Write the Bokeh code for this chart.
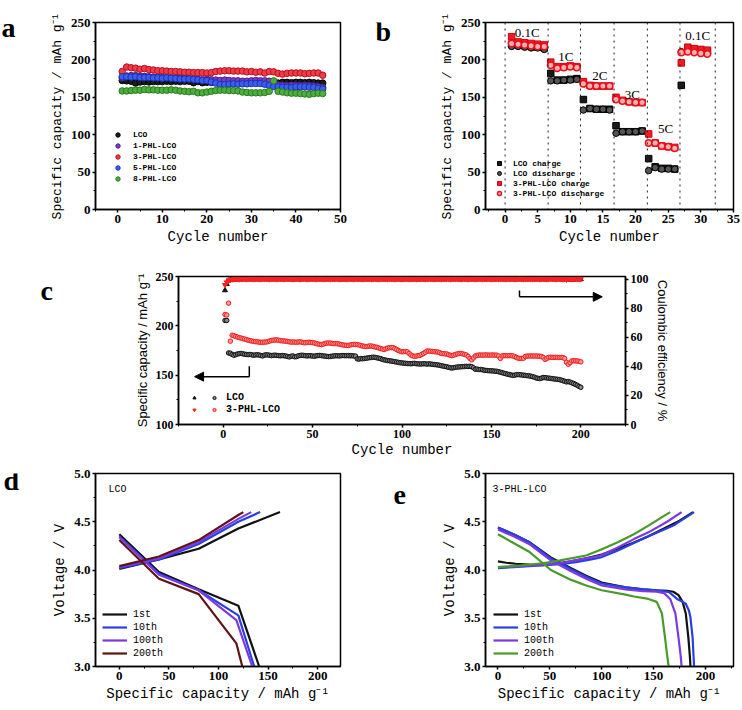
from bokeh.plotting import figure
from bokeh.layouts import column, row
from bokeh.models import (Range1d, LinearAxis, Label, Legend, LegendItem, Span, Arrow,
                          NormalHead, SingleIntervalTicker, NumeralTickFormatter)
from bokeh.embed import file_html
from bokeh.resources import INLINE

SERIF = "Liberation Serif"
MONO = "Liberation Mono"
SANS = "Liberation Sans"

# ---------------- panel a data ----------------
a_cycles = list(range(1, 47))
a_lco = [172.5, 172.0, 171.5, 169.0, 170.5, 171.0, 170.5, 171.0, 171.0, 171.0,
         171.5, 171.0, 171.5, 171.0, 171.5, 171.5, 169.5, 171.0, 169.5, 170.0,
         170.0, 170.5, 169.5, 170.0, 170.0, 170.0, 169.5, 170.0, 170.0, 169.5,
         170.0, 170.5, 170.5, 170.0, 168.0, 169.0, 170.0, 170.0, 169.5, 170.0,
         170.0, 169.5, 170.0, 169.5, 169.0, 169.0]
a_1phl = [176.0, 178.5, 179.0, 179.0, 178.0, 178.0, 177.5, 177.0, 177.0, 176.5,
          176.5, 176.0, 176.5, 175.5, 175.5, 175.0, 174.5, 174.0, 173.5, 174.0,
          173.5, 173.0, 172.5, 173.0, 172.5, 172.0, 172.0, 171.5, 171.5, 172.0,
          172.5, 172.0, 172.0, 171.5, 166.0, 166.5, 166.0, 165.5, 166.0, 166.0,
          165.5, 166.0, 165.5, 165.0, 164.0, 163.0]
a_3phl = [184.5, 190.5, 189.5, 189.0, 187.5, 188.5, 187.0, 186.5, 185.5, 185.5,
          185.0, 184.5, 184.5, 184.0, 183.5, 183.5, 183.0, 183.0, 183.0, 182.5,
          183.0, 184.5, 185.0, 185.5, 185.5, 185.0, 185.0, 185.0, 184.0, 184.5,
          183.5, 184.0, 182.5, 184.5, 184.0, 182.0, 181.0, 182.0, 182.5, 182.5,
          182.5, 181.5, 182.0, 182.5, 182.5, 179.5]
a_5phl = [177.5, 177.5, 177.0, 177.5, 176.5, 176.5, 176.5, 176.0, 176.0, 175.5,
          176.0, 175.5, 175.0, 174.5, 174.5, 174.5, 174.0, 173.5, 172.5, 172.5,
          170.5, 169.0, 167.0, 167.0, 167.5, 168.0, 167.5, 168.0, 168.0, 168.5,
          168.5, 168.5, 167.5, 166.0, 164.5, 164.0, 163.5, 163.5, 163.0, 164.0,
          164.0, 164.0, 163.5, 163.0, 162.0, 161.0]
a_8phl = [158.5, 158.5, 159.0, 159.5, 159.5, 160.5, 160.0, 160.0, 159.5, 159.5,
          159.5, 160.0, 159.5, 158.5, 158.0, 157.5, 158.0, 156.0, 156.0, 157.0,
          158.0, 159.0, 159.5, 159.5, 159.0, 159.0, 158.5, 157.0, 156.5, 156.0,
          156.0, 156.0, 156.5, 158.0, 172.0, 158.0, 157.0, 156.0, 155.5, 155.5,
          155.0, 154.5, 154.0, 155.0, 155.5, 155.0]
a_names = ["LCO", "1-PHL-LCO", "3-PHL-LCO", "5-PHL-LCO", "8-PHL-LCO"]
a_fill = ["#1c1c1c", "#7a3cc8", "#f03c46", "#3a5ef0", "#4caf3c"]
a_line = ["#000000", "#4b1f8a", "#b81020", "#1a30b0", "#2a7a20"]

# ---------------- panel b data ----------------
b_cycles = list(range(1, 32))
b_lco_charge = [221, 220, 219, 218, 217, 216, 182, 173, 173, 174, 175, 147, 135, 134, 134, 134,
                112, 104, 104, 104, 105, 68, 57, 55, 55, 54, 166, 215, 214, 213, 212]
b_lco_dis = [218, 218, 217, 216, 216, 214, 172, 172, 173, 173, 174, 133, 135, 134, 134, 133,
             102, 104, 104, 104, 105, 52, 56, 54, 54, 54, 211, 212, 211, 210, 209]
b_phl_charge = [231, 224, 223, 222, 221, 220, 197, 191, 191, 192, 191, 171, 166, 165, 165, 165,
                150, 146, 144, 143, 143, 101, 89, 85, 84, 83, 196, 217, 215, 214, 213]
b_phl_dis = [222, 221, 220, 219, 218, 218, 193, 189, 190, 191, 190, 168, 165, 165, 165, 165,
             147, 145, 144, 143, 143, 89, 89, 85, 84, 82, 210, 211, 210, 209, 208]
b_dividers = [0, 6.6, 11.55, 16.7, 21.8, 26.8, 32.2]
b_rate_text = ["0.1C", "1C", "2C", "3C", "5C", "0.1C"]
b_rate_x = [3.4, 9.3, 14.5, 19.5, 24.6, 29.5]
b_rate_y = [237, 204, 179, 154, 108, 232]

# ---------------- panel c data ----------------
c_cycles = list(range(1, 201))
c_cap_lco = [205.5, 205.5, 172.5, 172.3, 171.0, 170.2, 170.8, 171.5, 171.8, 172.0,
             171.6, 171.2, 171.0, 170.8, 171.0, 170.6, 170.2, 170.5, 170.7, 170.4,
             170.0, 169.5, 170.3, 170.6, 170.5, 170.2, 169.8, 170.1, 170.3, 170.0,
             169.8, 169.6, 169.9, 169.7, 169.4, 169.0, 168.5, 169.2, 169.5, 168.6,
             168.8, 169.6, 170.0, 170.2, 170.0, 169.7, 169.5, 169.8, 169.6, 169.4,
             169.2, 169.6, 169.9, 170.0, 169.8, 169.5, 169.3, 169.0, 168.8, 169.0,
             169.3, 169.5, 169.7, 169.6, 169.5, 169.8, 169.9, 169.7, 169.8, 169.8,
             169.6, 169.7, 169.5, 169.3, 166.5, 166.3, 166.8, 166.6, 167.0, 167.2,
             167.5, 167.8, 168.0, 168.2, 168.0, 167.6, 167.2, 166.8, 166.0, 165.5,
             165.2, 164.8, 164.6, 164.3, 164.0, 163.6, 163.3, 163.0, 162.6, 162.4,
             162.2, 162.0, 161.8, 161.7, 161.6, 161.8, 162.0, 161.6, 161.5, 161.3,
             161.4, 161.6, 161.5, 161.2, 161.5, 161.3, 161.0, 160.8, 160.6, 160.4,
             160.0, 159.6, 159.2, 158.8, 158.5, 158.0, 157.5, 157.3, 157.6, 158.0,
             158.2, 158.4, 158.5, 158.6, 158.8, 159.0, 158.8, 159.0, 158.6, 157.5,
             156.0, 156.2, 155.7, 155.8, 155.5, 155.0, 154.8, 154.6, 154.5, 154.4,
             154.3, 154.0, 154.0, 153.5, 153.0, 152.5, 152.0, 151.5, 151.0, 150.6,
             150.2, 149.8, 150.0, 150.5, 150.6, 150.4, 150.2, 150.0, 149.8, 149.5,
             149.3, 149.0, 148.5, 148.0, 147.2, 146.8, 146.5, 147.0, 147.6, 147.5,
             147.2, 147.0, 146.8, 146.5, 146.2, 146.0, 145.8, 145.5, 145.0, 144.4,
             143.8, 143.2, 143.5, 143.0, 142.2, 141.6, 140.6, 139.8, 138.6, 137.7]
c_cap_phl = [211.5, 211.0, 223.0, 184.5, 190.5, 190.0, 189.2, 188.6, 188.0, 187.6,
             187.0, 186.6, 186.0, 185.5, 185.0, 184.6, 184.2, 184.0, 183.8, 183.5,
             183.4, 183.3, 183.5, 183.6, 184.0, 184.6, 185.2, 185.5, 185.6, 185.8,
             185.4, 185.0, 184.8, 184.6, 184.5, 184.2, 183.8, 183.5, 183.6, 183.5,
             183.3, 183.6, 183.8, 183.4, 183.0, 182.8, 183.2, 183.4, 183.1, 183.0,
             182.6, 182.0, 181.6, 181.2, 181.0, 181.5, 182.2, 182.5, 182.6, 182.5,
             182.2, 182.0, 182.0, 181.8, 181.5, 181.0, 180.6, 180.4, 180.2, 180.0,
             180.6, 181.0, 181.2, 181.0, 181.0, 180.6, 180.0, 179.5, 179.2, 179.0,
             179.3, 179.6, 179.5, 179.0, 178.6, 178.2, 177.6, 177.0, 176.5, 176.0,
             176.8, 177.5, 177.8, 178.0, 178.0, 177.0, 176.0, 175.0, 174.2, 173.7,
             173.8, 174.0, 173.6, 172.0, 170.4, 169.6, 169.0, 169.4, 169.8, 170.0,
             171.0, 172.0, 173.2, 174.4, 174.4, 174.2, 174.0, 173.8, 173.6, 173.5,
             172.8, 172.0, 171.8, 171.6, 171.5, 170.8, 170.2, 169.8, 170.4, 171.0,
             171.6, 172.0, 172.0, 171.6, 171.0, 170.5, 169.0, 167.0, 165.5, 167.5,
             169.5, 170.0, 170.4, 170.4, 170.3, 170.4, 170.5, 170.4, 170.3, 170.4,
             170.4, 170.3, 170.3, 169.5, 167.0, 169.5, 169.8, 169.8, 169.7, 169.8,
             169.8, 169.5, 168.8, 168.0, 167.2, 167.0, 167.0, 167.2, 169.0, 169.3,
             169.4, 169.5, 169.4, 169.4, 169.4, 169.3, 169.2, 169.0, 168.0, 166.0,
             167.0, 168.0, 168.2, 168.0, 168.0, 168.1, 168.0, 168.0, 168.0, 167.8,
             167.0, 163.0, 161.0, 162.6, 164.5, 164.6, 164.5, 164.4, 164.0, 163.5]
c_eff_lco = [92.3, 96.6, 99.0, 99.4, 99.6, 99.7, 99.8, 99.7, 99.9, 99.8,
             99.9, 100.0, 99.8, 99.9, 100.1, 99.9, 99.8, 100.0, 99.9, 99.8,
             100.0, 99.9, 100.1, 99.8, 99.9, 100.0, 99.9, 99.8, 100.0, 100.1,
             99.9, 99.8, 100.0, 99.9, 100.2, 99.9, 99.8, 100.0, 99.9, 99.7,
             99.9, 100.0, 99.8, 99.9, 100.1, 99.9, 99.8, 100.0, 99.9, 100.0,
             99.8, 99.9, 100.1, 99.9, 99.8, 100.0, 99.9, 99.8, 100.0, 99.9,
             100.1, 99.8, 99.9, 100.0, 99.9, 99.7, 99.9, 100.0, 99.8, 99.9,
             100.0, 99.9, 99.8, 100.2, 99.9, 99.8, 100.0, 99.9, 99.8, 100.0,
             99.9, 100.1, 99.8, 99.9, 100.0, 99.9, 99.8, 100.0, 99.9, 99.8,
             100.0, 99.9, 100.1, 99.8, 99.9, 100.0, 99.9, 99.8, 100.0, 99.9,
             99.8, 100.0, 99.9, 100.1, 99.9, 99.8, 100.0, 99.9, 99.7, 99.9,
             100.0, 99.9, 99.8, 100.0, 100.1, 99.9, 99.8, 99.9, 100.0, 99.9,
             99.8, 100.0, 99.9, 99.8, 100.1, 99.9, 100.0, 99.8, 99.9, 100.0,
             99.9, 99.8, 100.0, 99.9, 100.1, 99.8, 99.9, 100.0, 99.9, 99.8,
             100.0, 99.9, 99.8, 100.1, 99.9, 100.0, 99.8, 99.9, 100.0, 99.9,
             99.8, 100.0, 99.9, 100.1, 99.9, 99.8, 100.0, 99.9, 99.8, 100.0,
             99.9, 100.1, 99.8, 99.9, 100.0, 99.9, 99.8, 100.0, 99.9, 99.8,
             100.0, 99.9, 100.1, 99.8, 99.9, 100.0, 99.9, 99.8, 100.0, 99.9,
             99.8, 100.0, 99.9, 100.1, 99.9, 99.8, 100.0, 99.9, 99.7, 99.9,
             100.0, 99.9, 99.8, 100.0, 99.6, 99.9, 99.8, 99.9, 100.0, 99.9]
c_eff_phl = [96.0, 97.8, 99.2, 99.6, 99.8, 99.9, 100.0, 100.1, 99.9, 100.0,
             100.1, 100.0, 99.9, 100.1, 100.0, 100.2, 99.9, 100.0, 100.1, 100.0,
             99.9, 100.1, 100.0, 100.2, 100.0, 99.9, 100.1, 100.0, 100.1, 99.9,
             100.0, 100.2, 100.0, 99.9, 100.1, 100.0, 100.1, 100.0, 99.9, 100.1,
             100.0, 100.1, 99.9, 100.0, 100.2, 100.0, 99.9, 100.1, 100.0, 100.1,
             100.0, 99.9, 100.1, 100.0, 100.2, 99.9, 100.0, 100.1, 100.0, 99.9,
             100.1, 100.0, 100.2, 100.0, 99.9, 100.1, 100.0, 100.1, 99.9, 100.0,
             100.1, 100.0, 99.9, 100.1, 100.0, 100.2, 100.0, 99.9, 100.1, 100.0,
             100.0, 100.1, 99.9, 100.0, 100.2, 100.0, 99.9, 100.1, 100.0, 100.1,
             100.0, 99.9, 100.1, 100.0, 100.1, 99.9, 100.0, 100.2, 100.0, 99.9,
             100.1, 100.0, 100.1, 99.9, 100.0, 100.1, 100.0, 99.9, 100.2, 100.0,
             100.0, 100.1, 99.9, 100.0, 100.1, 100.0, 100.2, 99.9, 100.0, 100.1,
             100.0, 99.9, 100.1, 100.0, 100.1, 100.0, 99.9, 100.1, 100.0, 100.2,
             100.0, 100.1, 99.9, 100.0, 100.1, 100.0, 99.9, 100.1, 100.0, 100.1,
             99.9, 100.0, 100.2, 100.0, 99.9, 100.1, 100.0, 100.1, 100.0, 99.9,
             100.1, 100.0, 100.1, 99.9, 100.0, 100.2, 100.0, 99.9, 100.1, 100.0,
             100.0, 100.1, 99.9, 100.0, 100.1, 100.3, 100.0, 99.9, 100.1, 100.0,
             100.1, 100.0, 99.9, 100.1, 100.0, 100.1, 99.9, 100.0, 100.2, 100.0,
             99.9, 100.1, 100.0, 100.1, 100.0, 99.9, 100.1, 100.0, 100.1, 99.9,
             100.0, 99.7, 100.1, 100.0, 99.9, 100.1, 100.0, 100.1, 100.0, 100.0]
# arrows (cycle, capacity units of the left axis)
c_arrow_left = dict(x=[14.6, 14.6, -16.0], y=[159.0, 148.5, 148.5])
c_arrow_right = dict(x=[165.7, 165.7, 212.0], y=[235.9, 229.4, 229.4])

# ---------------- panel d data (LCO) ----------------
d_labels = ["1st", "10th", "100th", "200th"]
d_colors = ["#111111", "#2a3ee6", "#7a3ae0", "#5e1414"]
d_ch_cap = [[0, 20, 40, 80, 120, 162], [0, 40, 80, 120, 142], [0, 40, 80, 120, 133], [0, 40, 80, 120, 125]]
d_ch_v = [[4.01, 4.06, 4.11, 4.22, 4.43, 4.60], [4.02, 4.11, 4.27, 4.50, 4.60],
          [4.03, 4.12, 4.29, 4.53, 4.60], [4.04, 4.14, 4.31, 4.57, 4.60]]
d_dis_cap = [[0, 40, 80, 120, 141], [0, 40, 80, 120, 136], [0, 40, 80, 118, 134], [0, 40, 80, 118, 124]]
d_dis_v = [[4.37, 3.98, 3.80, 3.63, 3.00], [4.35, 3.96, 3.79, 3.53, 3.00],
           [4.34, 3.95, 3.79, 3.48, 3.00], [4.31, 3.91, 3.75, 3.24, 3.00]]

# ---------------- panel e data (3-PHL-LCO) ----------------
e_labels = ["1st", "10th", "100th", "200th"]
e_colors = ["#111111", "#2a3ee6", "#7a3ae0", "#4a9a2a"]
e_ch_cap = [[0, 8, 17, 30, 43, 55, 70, 85, 100, 115, 130, 145, 160, 175, 188],
            [0, 15, 30, 45, 60, 75, 90, 99, 115, 131, 145, 158, 169, 182, 189],
            [0, 15, 30, 45, 60, 75, 90, 99, 115, 131, 145, 163, 177],
            [0, 20, 43, 60, 85, 99, 116, 131, 145, 157, 166]]
e_ch_v = [[4.09, 4.075, 4.065, 4.055, 4.05, 4.065, 4.09, 4.12, 4.16, 4.22, 4.28, 4.35, 4.43, 4.51, 4.60],
          [4.02, 4.03, 4.04, 4.05, 4.06, 4.08, 4.11, 4.13, 4.20, 4.28, 4.35, 4.41, 4.46, 4.55, 4.60],
          [4.03, 4.035, 4.045, 4.055, 4.07, 4.10, 4.13, 4.15, 4.23, 4.32, 4.39, 4.50, 4.60],
          [4.03, 4.045, 4.07, 4.10, 4.15, 4.21, 4.29, 4.37, 4.46, 4.54, 4.60]]
e_dis_cap = [[0, 15, 30, 51, 70, 85, 100, 123, 140, 153, 163, 169, 174, 178, 181, 183.5, 185, 185.5],
             [0, 15, 30, 51, 70, 85, 100, 123, 140, 153, 165, 172.6, 178, 181, 184, 185.5, 187.6, 189],
             [0, 15, 30, 51, 70, 85, 100, 123, 140, 153, 160, 166, 171, 174, 176, 177],
             [0, 15, 30, 51, 70, 85, 100, 123, 131, 145, 153, 158, 161, 163, 164.5]]
e_dis_v = [[4.44, 4.37, 4.29, 4.13, 4.02, 3.94, 3.87, 3.82, 3.80, 3.79, 3.785, 3.775, 3.74, 3.67, 3.55, 3.30, 3.10, 3.00],
           [4.44, 4.37, 4.29, 4.12, 4.01, 3.93, 3.86, 3.82, 3.80, 3.79, 3.77, 3.70, 3.67, 3.65, 3.58, 3.51, 3.30, 3.00],
           [4.42, 4.35, 4.27, 4.10, 3.99, 3.91, 3.84, 3.80, 3.78, 3.775, 3.76, 3.70, 3.55, 3.30, 3.12, 3.00],
           [4.37, 4.28, 4.19, 4.00, 3.90, 3.84, 3.79, 3.745, 3.725, 3.70, 3.67, 3.55, 3.30, 3.12, 3.00]]

CAP_TITLE = "Specific capacity / mAh g\u207b\u00b9"


def make_fig(w, h, xr, yr, top, bottom, left, right):
    p = figure(width=w, height=h, x_range=Range1d(*xr), y_range=Range1d(*yr),
               output_backend="svg", toolbar_location=None,
               min_border_top=top, min_border_bottom=bottom,
               min_border_left=left, min_border_right=right,
               background_fill_color="white", border_fill_color="white")
    p.grid.visible = False
    p.outline_line_color = "black"
    p.outline_line_width = 1.5
    return p


def letter_fig(w, h, letter, x, y):
    """Narrow axis-less strip that only carries the panel letter."""
    s = figure(width=w, height=h, x_range=Range1d(0, w), y_range=Range1d(0, h),
               output_backend="svg", toolbar_location=None,
               x_axis_type=None, y_axis_type=None, min_border=0,
               background_fill_color="white", border_fill_color="white")
    s.grid.visible = False
    s.outline_line_color = None
    s.add_layout(Label(x=x, y=y, text=letter,
                       text_font=SERIF, text_font_style="bold", text_font_size="28px",
                       text_color="black", text_align="left", text_baseline="bottom"))
    return s


def style_axis(ax, tick_size="13px", title_font=MONO, title_size="14px", title_style="normal"):
    ax.axis_line_width = 1.5
    ax.axis_line_color = "black"
    ax.major_tick_line_width = 1.5
    ax.major_tick_in = 0
    ax.major_tick_out = 3
    ax.minor_tick_in = 0
    ax.minor_tick_out = 2
    ax.minor_tick_line_width = 1
    ax.major_label_text_font = SERIF
    ax.major_label_text_font_style = "bold"
    ax.major_label_text_font_size = tick_size
    ax.major_label_text_color = "black"
    ax.major_label_standoff = 2
    ax.axis_label_text_font = title_font
    ax.axis_label_text_font_size = title_size
    ax.axis_label_text_font_style = title_style
    ax.axis_label_text_color = "black"
    ax.axis_label_standoff = 3


def small_legend(items, loc, font, size, style, glyph_w, glyph_h, standoff, spacing,
                 orientation="vertical"):
    return Legend(items=items, location=loc, orientation=orientation,
                  background_fill_alpha=0, border_line_alpha=0, padding=0, margin=0,
                  spacing=spacing, glyph_width=glyph_w, glyph_height=glyph_h,
                  label_height=glyph_h, label_width=0, label_standoff=standoff,
                  label_text_font=font, label_text_font_size=size,
                  label_text_font_style=style, label_text_color="black")


# ================= panel a =================
pa = make_fig(351, 255, (-5, 50), (0, 250), 16, 46, 75, 31)
pa.xaxis.ticker = SingleIntervalTicker(interval=10, num_minor_ticks=2)
pa.yaxis.ticker = SingleIntervalTicker(interval=50, num_minor_ticks=2)
pa.xaxis.axis_label = "Cycle number"
pa.yaxis.axis_label = CAP_TITLE
for ax in pa.xaxis:
    style_axis(ax)
for ax in pa.yaxis:
    style_axis(ax, title_size="13px")
a_series = [a_lco, a_1phl, a_3phl, a_5phl, a_8phl]
a_r = {}
for name, ys, fc, lc in zip(a_names, a_series, a_fill, a_line):
    a_r[name] = pa.scatter(a_cycles, ys, marker="circle", size=6.5, fill_color=fc,
                           line_color=lc, line_width=1)
pa.add_layout(small_legend([LegendItem(label=n, renderers=[a_r[n]]) for n in a_names],
                           (17, 25), MONO, "8px", "bold", 11, 11, 10, 0))

# ================= panel b =================
pb = make_fig(346, 255, (-3, 35), (0, 250), 22, 39, 89, 9)
pb.xaxis.ticker = SingleIntervalTicker(interval=5, num_minor_ticks=2)
pb.yaxis.ticker = SingleIntervalTicker(interval=50, num_minor_ticks=2)
pb.xaxis.axis_label = "Cycle number"
pb.yaxis.axis_label = CAP_TITLE
for ax in pb.xaxis:
    style_axis(ax)
for ax in pb.yaxis:
    style_axis(ax, title_size="13px")
for v in b_dividers:
    pb.add_layout(Span(location=v, dimension="height", line_dash="dotted",
                       line_color="#222222", line_width=1))
rb1 = pb.scatter(b_cycles, b_lco_charge, marker="square", size=6.5, fill_color="#1a1a1a",
                 line_color="#000000")
rb2 = pb.scatter(b_cycles, b_lco_dis, marker="circle", size=6.5, fill_color="#555555",
                 line_color="#000000")
rb3 = pb.scatter(b_cycles, b_phl_charge, marker="square", size=6.5, fill_color="#f01c24",
                 line_color="#d00010")
rb4 = pb.scatter(b_cycles, b_phl_dis, marker="circle", size=6.5, fill_color="#ffb0b0",
                 line_color="#e8101c", line_width=1.5)
pb.add_layout(small_legend([LegendItem(label="LCO charge", renderers=[rb1]),
                            LegendItem(label="LCO discharge", renderers=[rb2]),
                            LegendItem(label="3-PHL-LCO charge", renderers=[rb3]),
                            LegendItem(label="3-PHL-LCO discharge", renderers=[rb4])],
                           (9, 11), MONO, "8px", "bold", 10, 10, 9, 0))
for t, x, y in zip(b_rate_text, b_rate_x, b_rate_y):
    pb.add_layout(Label(x=x, y=y, text=t, text_font=SERIF, text_font_size="13px",
                        text_color="black", text_align="center", text_baseline="middle"))

# ================= panel c =================
pc = make_fig(682, 205, (-25, 225), (100, 250), 21, 32, 118, 117)
pc.extra_y_ranges = {"ce": Range1d(0, 101.8)}
pc.xaxis.ticker = SingleIntervalTicker(interval=50, num_minor_ticks=2)
pc.yaxis.ticker = SingleIntervalTicker(interval=50, num_minor_ticks=2)
pc.xaxis.axis_label = "Cycle number"
pc.yaxis.axis_label = CAP_TITLE
right_ax = LinearAxis(y_range_name="ce", axis_label="Coulombic efficiency / %",
                      ticker=SingleIntervalTicker(interval=20, num_minor_ticks=2))
pc.add_layout(right_ax, "right")
for ax in pc.xaxis:
    style_axis(ax, tick_size="12px")
    ax.axis_label_standoff = 1
for ax in pc.yaxis:
    style_axis(ax, tick_size="12px", title_font=SANS, title_size="13px")
rc_cap_lco = pc.scatter(c_cycles, c_cap_lco, marker="circle", size=4.5, fill_color="#888888",
                        line_color="#111111", line_width=1)
rc_cap_phl = pc.scatter(c_cycles, c_cap_phl, marker="circle", size=4.5, fill_color="#ff9a9a",
                        line_color="#ee2020", line_width=1)
rc_eff_lco = pc.scatter(c_cycles, c_eff_lco, y_range_name="ce", marker="triangle", size=5,
                        fill_color="#111111", line_color="#111111")
rc_eff_phl = pc.scatter(c_cycles, c_eff_phl, y_range_name="ce", marker="inverted_triangle",
                        size=5, fill_color="#ff2020", line_color="#ff2020")
for arr in (c_arrow_left, c_arrow_right):
    pc.add_layout(Arrow(end=None, x_start=arr["x"][0], y_start=arr["y"][0],
                        x_end=arr["x"][1], y_end=arr["y"][1], line_width=1.5, line_color="black"))
    pc.add_layout(Arrow(end=NormalHead(size=9, fill_color="black", line_color="black"),
                        x_start=arr["x"][1], y_start=arr["y"][1],
                        x_end=arr["x"][2], y_end=arr["y"][2], line_width=1.5, line_color="black"))
pc.add_layout(small_legend([LegendItem(label=" ", renderers=[rc_eff_lco]),
                            LegendItem(label="LCO", renderers=[rc_cap_lco])],
                           (12, 21), MONO, "10px", "bold", 8, 11, 8, 4, orientation="horizontal"))
pc.add_layout(small_legend([LegendItem(label=" ", renderers=[rc_eff_phl]),
                            LegendItem(label="3-PHL-LCO", renderers=[rc_cap_phl])],
                           (12, 9), MONO, "10px", "bold", 8, 11, 8, 4, orientation="horizontal"))


# ================= panels d, e =================
def voltage_panel(w, xr, left, right, labels, colors, ch_cap, ch_v, dis_cap, dis_v,
                  tag, tag_x, leg_x):
    p = make_fig(w, 250, xr, (3.0, 5.0), 13, 44, left, right)
    p.xaxis.ticker = SingleIntervalTicker(interval=50, num_minor_ticks=2)
    p.yaxis.ticker = SingleIntervalTicker(interval=0.5, num_minor_ticks=2)
    p.yaxis.formatter = NumeralTickFormatter(format="0.0")
    p.xaxis.axis_label = CAP_TITLE
    p.yaxis.axis_label = "Voltage / V"
    for ax in p.axis:
        style_axis(ax)
    rs = []
    for lab, col, cc, cv, dc, dv in zip(labels, colors, ch_cap, ch_v, dis_cap, dis_v):
        r = p.line(cc, cv, line_color=col, line_width=2.2)
        p.line(dc, dv, line_color=col, line_width=2.2)
        rs.append(LegendItem(label=lab, renderers=[r]))
    p.add_layout(small_legend(rs, (leg_x, 7), MONO, "10px", "normal", 25, 12, 6, 1))
    p.add_layout(Label(x=tag_x, y=172, x_units="screen", y_units="screen", text=tag,
                       text_font=MONO, text_font_size="10px", text_color="black"))
    return p


pd_ = voltage_panel(349, (-24, 223), 73, 31, d_labels, d_colors, d_ch_cap, d_ch_v,
                    d_dis_cap, d_dis_v, "LCO", 13, 7)
pe_ = voltage_panel(331, (-12, 227), 74, 9, e_labels, e_colors, e_ch_cap, e_ch_v,
                    e_dis_cap, e_dis_v, "3-PHL-LCO", 7, 8)

# letter strips (left of each panel); letter positions in the strip's own pixel range
la = letter_fig(20, 255, "a", 1, 227)
lb = letter_fig(25, 255, "b", 4, 222)
lc = letter_fig(60, 205, "c", 40, 164)
ld = letter_fig(22, 250, "d", 3, 221)
le = letter_fig(40, 250, "e", 22, 211)

layout = column(row(la, pa, lb, pb), row(lc, pc), row(ld, pd_, le, pe_))
open("out.html", "w").write(file_html(layout, INLINE))
